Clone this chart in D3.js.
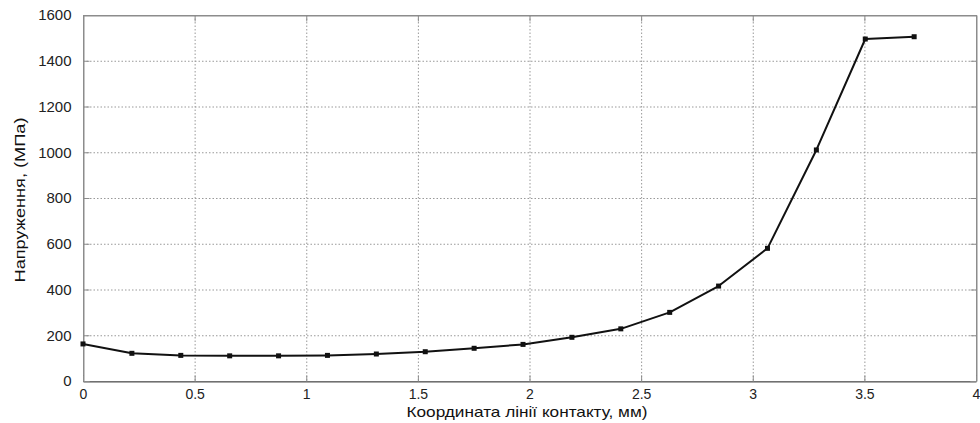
<!DOCTYPE html>
<html>
<head>
	<meta charset="utf-8">
	<title>Напруження</title>
	<script src="https://cdn.jsdelivr.net/npm/d3@7"></script>
	<style>
		body {
			margin: 0;
			background: #fff;
			font-family: "Liberation Sans", Arial, sans-serif;
		}
	</style>
</head>
<body>
	<div id="chart"></div>
	<script>
		// data
		const xValues = [0, 0.219, 0.438, 0.657, 0.876, 1.095, 1.314, 1.533, 1.752, 1.971,
			2.19, 2.409, 2.628, 2.847, 3.066, 3.285, 3.504, 3.723];
		const yValues = [162, 121, 112, 110, 110, 112, 118, 128, 143, 160,
			191, 228, 300, 415, 580, 1010, 1495, 1505];
		const xTicks = [0, 0.5, 1, 1.5, 2, 2.5, 3, 3.5, 4];
		const yTicks = [0, 200, 400, 600, 800, 1000, 1200, 1400, 1600];
		const xLabel = "Координата лінії контакту, мм)";
		const yLabel = "Напруження, (МПа)";

		const width = 980, height = 423;
		const margin = { top: 15, right: 4, bottom: 42, left: 83 };

		const svg = d3.select("#chart").append("svg")
			.attr("width", width)
			.attr("height", height);

		const x = d3.scaleLinear().domain([0, 4]).range([margin.left, width - margin.right]);
		const y = d3.scaleLinear().domain([0, 1600]).range([height - margin.bottom, margin.top]);

		// grid
		const grid = svg.append("g")
			.attr("stroke", "#999")
			.attr("stroke-width", 1)
			.attr("stroke-dasharray", "1.5,2");
		grid.selectAll("line.gx")
			.data(xTicks.slice(1, -1))
			.join("line")
			.attr("x1", d => x(d) + 0.5).attr("x2", d => x(d) + 0.5)
			.attr("y1", y(1600)).attr("y2", y(0));
		grid.selectAll("line.gy")
			.data(yTicks.slice(1, -1))
			.join("line")
			.attr("class", "gy")
			.attr("y1", d => y(d) + 0.5).attr("y2", d => y(d) + 0.5)
			.attr("x1", x(0)).attr("x2", x(4));

		// box
		svg.append("rect")
			.attr("x", x(0) + 0.5).attr("y", y(1600) + 0.5)
			.attr("width", x(4) - x(0)).attr("height", y(0) - y(1600))
			.attr("fill", "none")
			.attr("stroke", "#8c8c8c");

		// axes with inner ticks
		const xAxis = svg.append("g")
			.attr("transform", `translate(0,${y(0) + 0.5})`)
			.call(d3.axisBottom(x).tickValues(xTicks).tickSize(-6).tickPadding(8)
				.tickFormat(d3.format("~g")));
		const yAxis = svg.append("g")
			.attr("transform", `translate(${x(0) + 0.5},0)`)
			.call(d3.axisLeft(y).tickValues(yTicks).tickSize(-6).tickPadding(12)
				.tickFormat(d3.format("d")));
		svg.append("g")
			.attr("transform", `translate(0,${y(1600) + 0.5})`)
			.call(d3.axisTop(x).tickValues(xTicks).tickSize(-6).tickFormat(""));
		svg.append("g")
			.attr("transform", `translate(${x(4) + 0.5},0)`)
			.call(d3.axisRight(y).tickValues(yTicks).tickSize(-6).tickFormat(""));

		svg.selectAll(".domain").attr("stroke", "#8c8c8c");
		svg.selectAll(".tick line").attr("stroke", "#8c8c8c");
		xAxis.select(".domain").attr("stroke", "#555");
		svg.selectAll(".tick text")
			.attr("fill", "#222")
			.style("font-family", "'Liberation Sans', Arial, sans-serif");
		xAxis.selectAll(".tick text").style("font-size", "14px");
		yAxis.selectAll(".tick text").style("font-size", "15px");

		// labels (the reference text is a little stretched sideways)
		svg.append("text")
			.attr("x", 527)
			.attr("y", 417)
			.attr("text-anchor", "middle")
			.attr("fill", "#111")
			.attr("textLength", 241)
			.attr("lengthAdjust", "spacingAndGlyphs")
			.style("font-size", "15px")
			.text(xLabel);
		svg.append("text")
			.attr("transform", `translate(25,200) rotate(-90)`)
			.attr("text-anchor", "middle")
			.attr("fill", "#111")
			.attr("textLength", 165)
			.attr("lengthAdjust", "spacingAndGlyphs")
			.style("font-size", "15px")
			.text(yLabel);

		// series
		const pts = xValues.map((d, i) => [d, yValues[i]]);
		svg.append("path")
			.datum(pts)
			.attr("fill", "none")
			.attr("stroke", "#111")
			.attr("stroke-width", 2)
			.attr("stroke-linejoin", "round")
			.attr("d", d3.line().x(d => x(d[0])).y(d => y(d[1])));
		svg.append("g")
			.selectAll("rect")
			.data(pts)
			.join("rect")
			.attr("x", d => x(d[0]) - 2.5)
			.attr("y", d => y(d[1]) - 2.5)
			.attr("width", 5)
			.attr("height", 5)
			.attr("fill", "#111");
	</script>
</body>
</html>
